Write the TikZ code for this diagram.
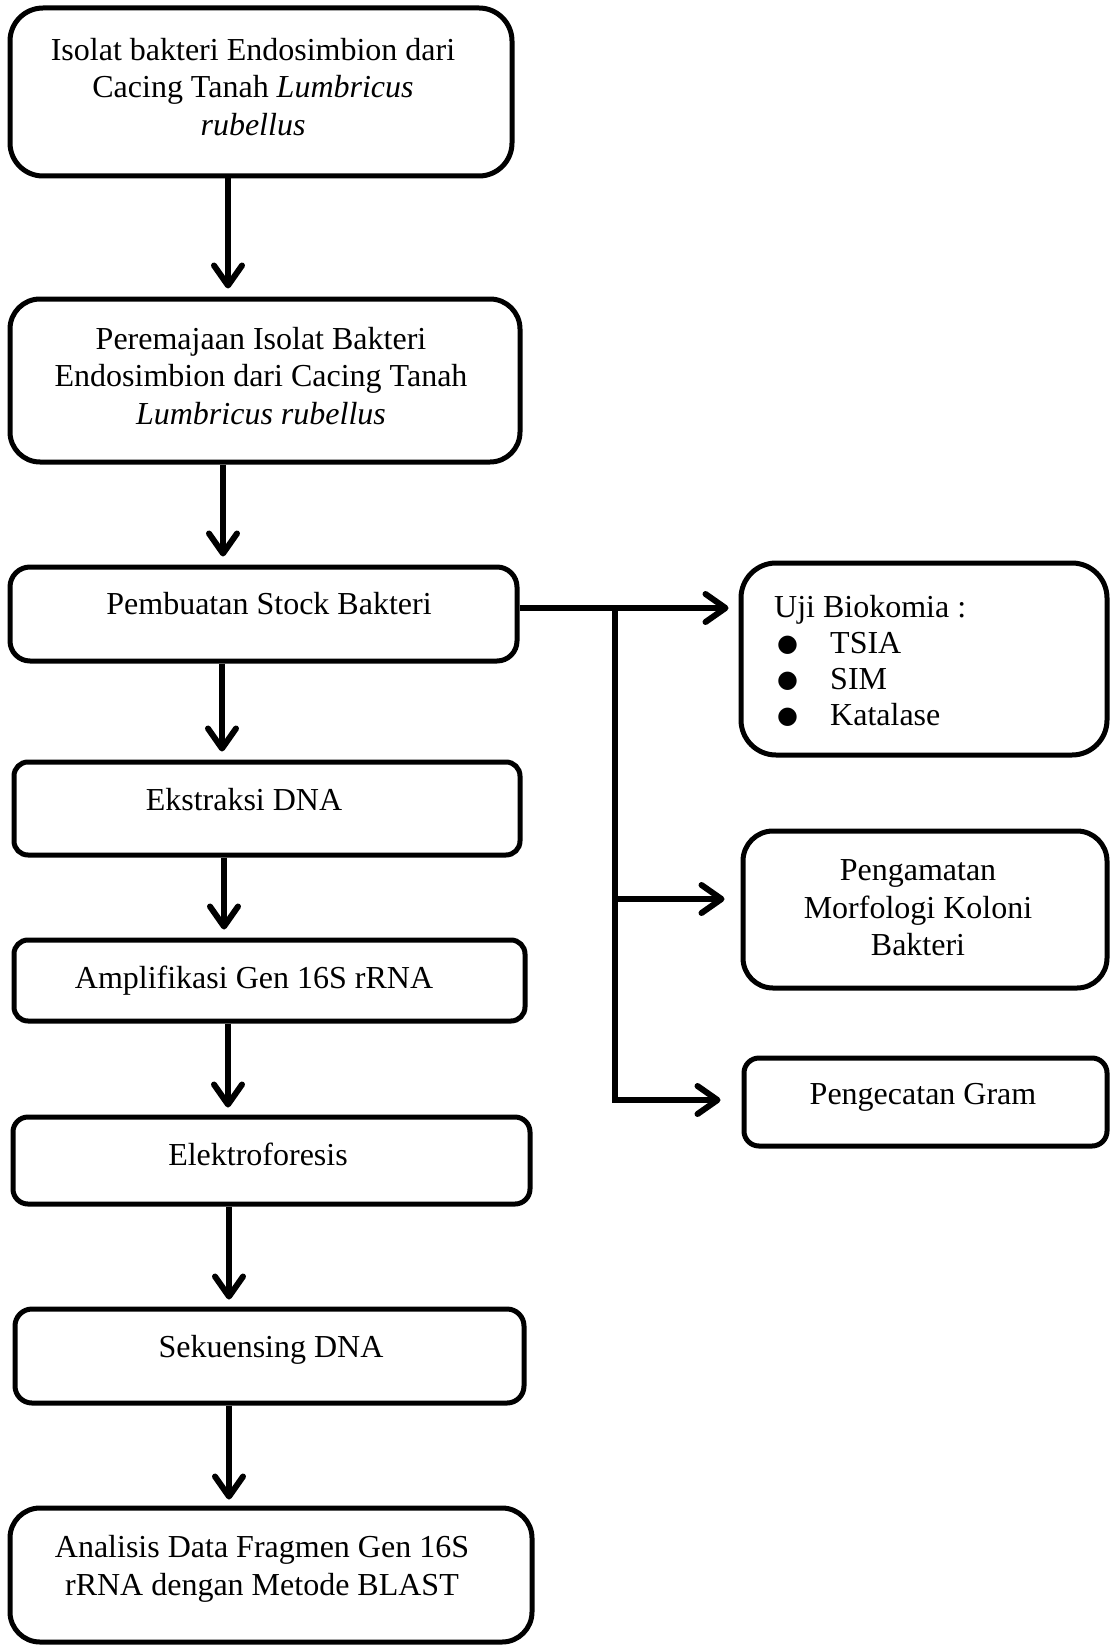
\documentclass[tikz,border=0pt]{standalone}
\usepackage{fontspec}
\setmainfont{Liberation Serif}
\newfontfamily\dejavu{DejaVu Sans}
\usetikzlibrary{arrows.meta}
\newcommand{\bul}{\raisebox{2pt}{\dejavu\fontsize{24}{24}\selectfont ●}}
\begin{document}
\begin{tikzpicture}[x=1pt,y=-1pt,
  box/.style={draw, line width=5pt, inner sep=0pt, rounded corners=#1},
  box/.default=15pt,
  txt/.style={inner sep=0pt, align=center, font=\fontsize{32}{37.5}\selectfont},
  one/.style={txt, text height=21pt, text depth=0pt},
  arr/.style={line width=6pt, -{Straight Barb[length=20pt,width=28pt,round]}}]
\useasboundingbox (0,0) rectangle (1109,1645);

% left column boxes
\node[box=33pt, minimum width=502pt, minimum height=168pt] (b1) at (261,92) {};
\node[box=30pt, minimum width=510pt, minimum height=163pt] (b2) at (265,380.5) {};
\node[box=20pt, minimum width=507pt, minimum height=94pt] (b3) at (263.5,614) {};
\node[box=14pt, minimum width=506pt, minimum height=93pt] (b4) at (267,808.5) {};
\node[box=14pt, minimum width=511pt, minimum height=81pt] (b5) at (269.5,980.5) {};
\node[box=15pt, minimum width=517pt, minimum height=87pt] (b6) at (271.5,1160.5) {};
\node[box=17pt, minimum width=509pt, minimum height=94pt] (b7) at (269.5,1356) {};
\node[box=30pt, minimum width=522pt, minimum height=134pt] (b8) at (271,1575) {};

% right column boxes
\node[box=35pt, minimum width=366pt, minimum height=192pt] (uji) at (924,659) {};
\node[box=30pt, minimum width=364pt, minimum height=157pt] (peng) at (925,909.5) {};
\node[box=15pt, minimum width=363pt, minimum height=88pt] (gram) at (925.5,1102) {};

% texts
\node[txt] (t1) at (253,87) {Isolat bakteri Endosimbion dari\\Cacing Tanah \textit{Lumbricus}\\\textit{rubellus}};
\node[txt] (t2) at (261,376) {Peremajaan Isolat Bakteri\\Endosimbion dari Cacing Tanah\\\textit{Lumbricus rubellus}};
\node[one] (t3) at (269,604) {Pembuatan Stock Bakteri};
\node[one] (t4) at (244,800) {Ekstraksi DNA};
\node[one] (t5) at (254,978) {Amplifikasi Gen 16S rRNA};
\node[one] (t6) at (258,1155) {Elektroforesis};
\node[one] (t7) at (271,1347) {Sekuensing DNA};
\node[txt] (t8) at (262,1569) {Analisis Data Fragmen Gen 16S\\rRNA dengan Metode BLAST};
\node[txt, align=left, anchor=west, font=\fontsize{32}{36}\selectfont] (tu) at (774,661)
  {Uji Biokomia :\\\hspace*{3pt}\makebox[53pt][l]{\bul}TSIA\\\hspace*{3pt}\makebox[53pt][l]{\bul}SIM\\\hspace*{3pt}\makebox[53pt][l]{\bul}Katalase};
\node[txt] (tp) at (918,908) {Pengamatan\\Morfologi Koloni\\Bakteri};
\node[one] (tg) at (923,1094) {Pengecatan Gram};

% vertical arrows
\draw[arr, shorten >=8pt] (b1.south -| 228,0) -- (b2.north -| 228,0);
\draw[arr, shorten >=8pt] (b2.south -| 223,0) -- (b3.north -| 223,0);
\draw[arr, shorten >=8pt] (b3.south -| 222,0) -- (b4.north -| 222,0);
\draw[arr, shorten >=8pt] (b4.south -| 224,0) -- (b5.north -| 224,0);
\draw[arr, shorten >=7pt] (b5.south -| 228,0) -- (b6.north -| 228,0);
\draw[arr, shorten >=7pt] (b6.south -| 229,0) -- (b7.north -| 229,0);
\draw[arr, shorten >=6pt] (b7.south -| 229,0) -- (b8.north -| 229,0);

% branch connectors
\coordinate (j0) at (615,608);
\coordinate (j1) at (615,899);
\coordinate (j2) at (615,1100);
\draw[arr, shorten >=10pt] (b3.east |- j0) -- (uji.west |- j0);
\draw[arr, shorten >=21pt] (j0) -- (j2) -- (gram.west |- j2);
\draw[arr, shorten >=16pt] (j1) -- (peng.west |- j1);
\end{tikzpicture}
\end{document}
